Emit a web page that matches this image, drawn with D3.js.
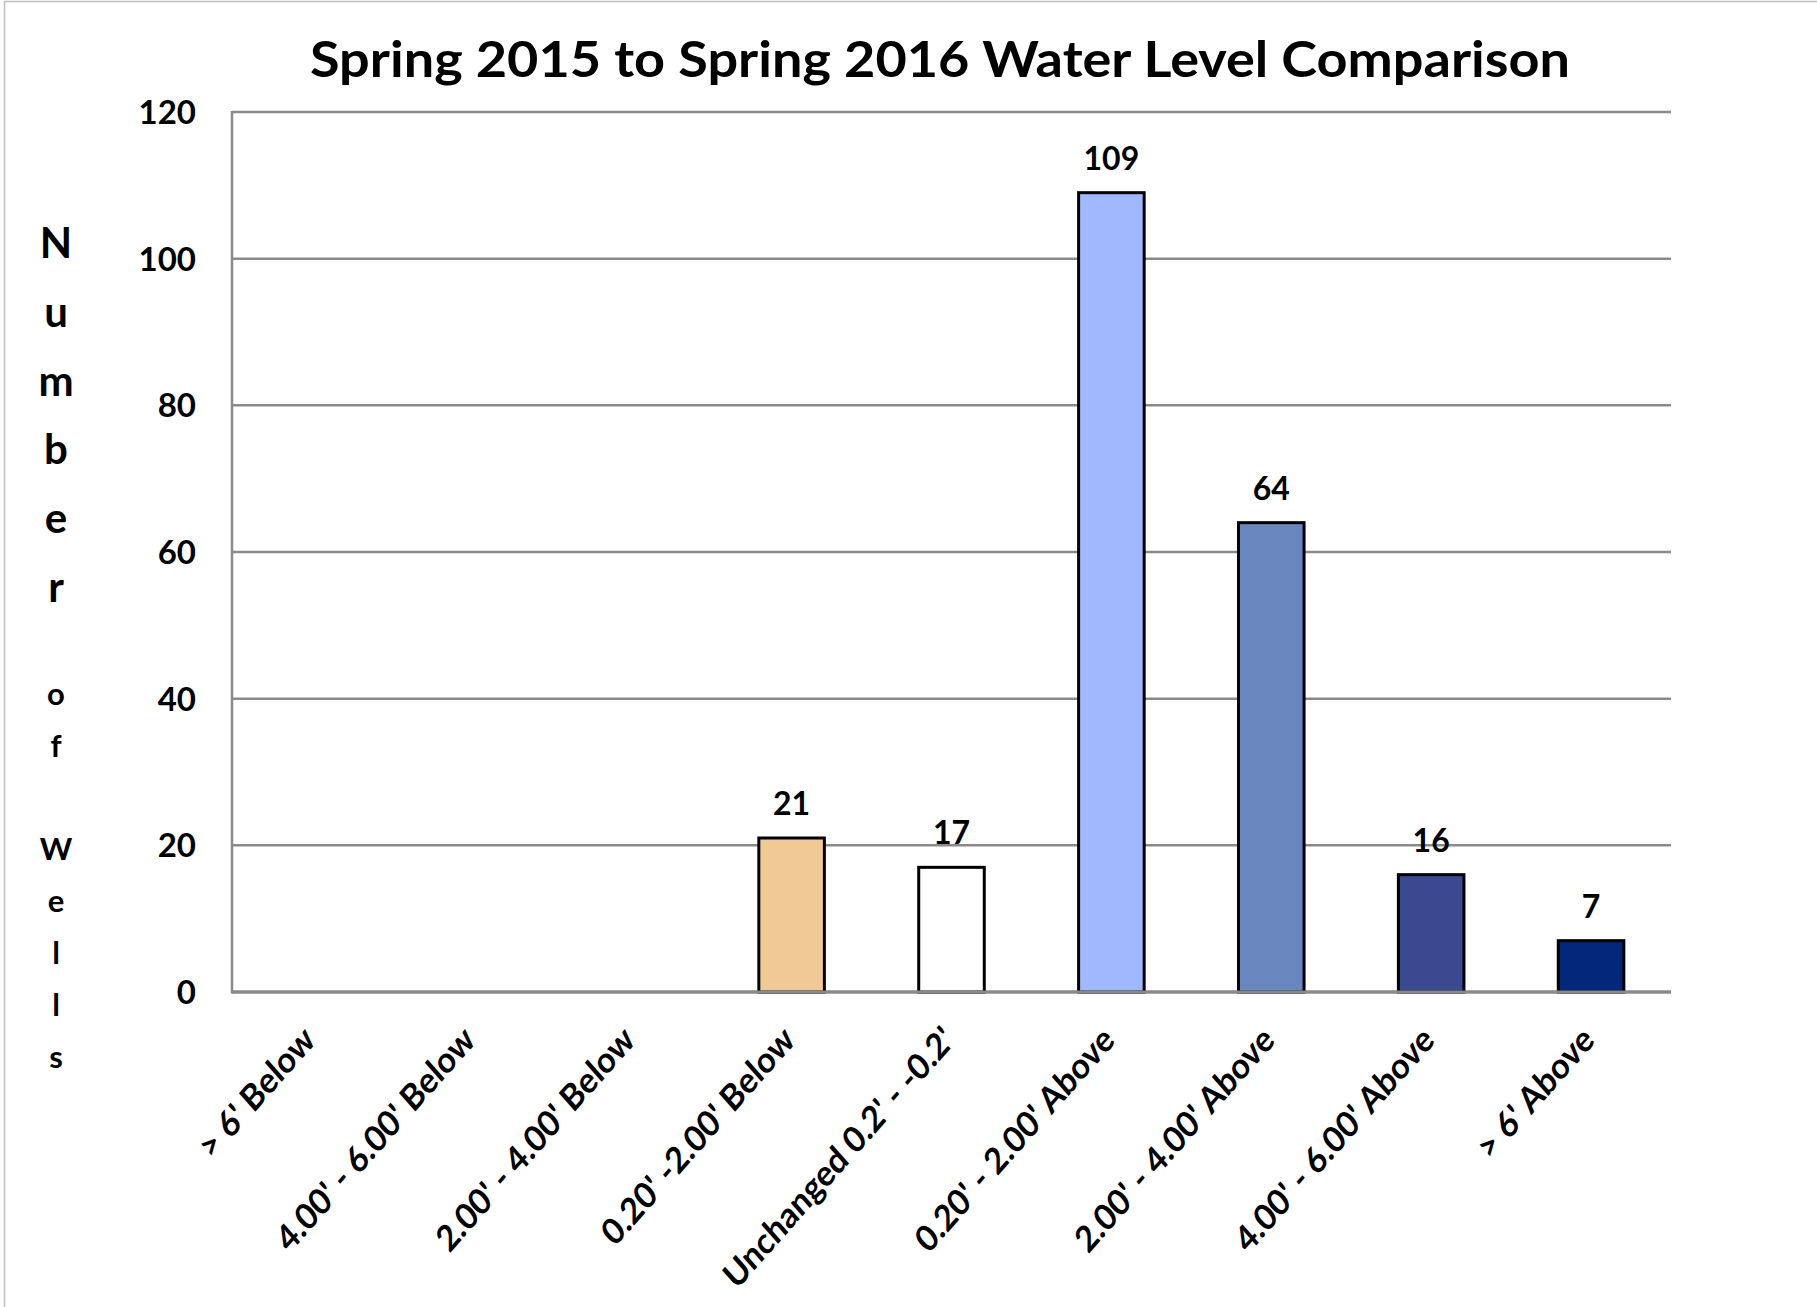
<!DOCTYPE html>
<html lang="en">
<head>
  <meta charset="UTF-8">
  <title>Spring 2015 to Spring 2016 Water Level Comparison</title>
  <script src="https://d3js.org/d3.v7.min.js"></script>
  <style>
    body {
      margin: 0;
      background: #ffffff;
    }
    svg {
      display: block;
      font-family: Lato, 'Open Sans', sans-serif;
    }
  </style>
</head>
<body>
  <svg width="1817" height="1307"></svg>

<script>
// data
const categories = [
  "> 6' Below", "4.00' - 6.00' Below", "2.00' - 4.00' Below", "0.20' -2.00' Below",
  "Unchanged 0.2' - -0.2'", "0.20' - 2.00' Above", "2.00' - 4.00' Above",
  "4.00' - 6.00' Above", "> 6' Above"
];
const wells = [0, 0, 0, 21, 17, 109, 64, 16, 7];
const barColors = ["#ff9a66", "#ffb27f", "#ffd0a8", "#f0c995", "#ffffff",
                   "#9fb8fe", "#6a86bf", "#3b4990", "#03287a"];
const yTicks = [0, 20, 40, 60, 80, 100, 120];
const titleText = "Spring 2015 to Spring 2016 Water Level Comparison";
const yTitleTop = ["N", "u", "m", "b", "e", "r"];
const yTitleBottom = ["o", "f", "", "W", "e", "l", "l", "s"];

const width = 1817, height = 1307;
const margin = { top: 112, right: 146, bottom: 315, left: 232 };

const svg = d3.select("svg");

// outer chart border
svg.append("rect")
  .attr("x", 4.5).attr("y", 1.5)
  .attr("width", width + 20).attr("height", height + 20)
  .attr("fill", "none")
  .attr("stroke", "#bfbfbf")
  .attr("stroke-width", 1.5);

const x = d3.scaleBand()
  .domain(categories)
  .range([margin.left, width - margin.right])
  .paddingInner(0.59)
  .paddingOuter(0.295);

const y = d3.scaleLinear()
  .domain([0, 120])
  .range([height - margin.bottom, margin.top]);

// gridlines
svg.append("g")
  .selectAll("line")
  .data(yTicks)
  .join("line")
  .attr("x1", margin.left)
  .attr("x2", width - margin.right)
  .attr("y1", d => y(d))
  .attr("y2", d => y(d))
  .attr("stroke", "#8a8a8a")
  .attr("stroke-width", d => d === 0 ? 3 : 2.5);

// y axis line
svg.append("line")
  .attr("x1", margin.left).attr("x2", margin.left)
  .attr("y1", y(120) - 1).attr("y2", y(0) + 1.5)
  .attr("stroke", "#8a8a8a")
  .attr("stroke-width", 2.5);

// y tick labels
svg.append("g")
  .selectAll("text")
  .data(yTicks)
  .join("text")
  .attr("x", margin.left - 36)
  .attr("y", d => y(d))
  .attr("dy", "0.36em")
  .attr("text-anchor", "end")
  .attr("font-size", 33)
  .attr("font-weight", "bold")
  .text(d => d);

// bars
const data = categories.map((c, i) => ({ cat: c, value: wells[i], color: barColors[i] }));
const shown = data.filter(d => d.value > 0);

svg.append("g")
  .selectAll("rect")
  .data(shown)
  .join("rect")
  .attr("x", d => x(d.cat))
  .attr("y", d => y(d.value))
  .attr("width", x.bandwidth())
  .attr("height", d => y(0) - y(d.value))
  .attr("fill", d => d.color)
  .attr("stroke", "#000")
  .attr("stroke-width", 3);

// redraw the base line over the bar bottoms
svg.append("line")
  .attr("x1", margin.left).attr("x2", width - margin.right)
  .attr("y1", y(0)).attr("y2", y(0))
  .attr("stroke", "#8a8a8a")
  .attr("stroke-width", 3);

// value labels
svg.append("g")
  .selectAll("text")
  .data(shown)
  .join("text")
  .attr("x", d => x(d.cat) + x.bandwidth() / 2)
  .attr("y", d => y(d.value) - 23)
  .attr("text-anchor", "middle")
  .attr("font-size", 32)
  .attr("font-weight", "bold")
  .text(d => d.value);

// category labels, rotated (the original is a bit stretched vertically)
svg.append("g")
  .selectAll("text")
  .data(categories)
  .join("text")
  .attr("transform", d => `translate(${x(d) + x.bandwidth() / 2 + 5},${y(0) + 50}) scale(1,1.13) rotate(-45)`)
  .attr("text-anchor", "end")
  .attr("font-size", 32)
  .attr("font-weight", "bold")
  .text(d => d);

// title
svg.append("text")
  .attr("x", 940)
  .attr("y", 77)
  .attr("text-anchor", "middle")
  .attr("font-size", 50)
  .attr("font-weight", "bold")
  .attr("textLength", 1260)
  .attr("lengthAdjust", "spacingAndGlyphs")
  .text(titleText);

// stacked y axis title
const yTitle = svg.append("g")
  .attr("text-anchor", "middle")
  .attr("font-weight", "bold");

yTitle.selectAll("text.top")
  .data(yTitleTop)
  .join("text")
  .attr("class", "top")
  .attr("x", 56)
  .attr("y", (d, i) => 258 + i * 68.8)
  .attr("font-size", 42)
  .text(d => d);

yTitle.selectAll("text.bottom")
  .data(yTitleBottom)
  .join("text")
  .attr("class", "bottom")
  .attr("x", 56)
  .attr("y", (d, i) => 705 + i * 51.8)
  .attr("font-size", 31)
  .text(d => d);
</script>
</body>
</html>
